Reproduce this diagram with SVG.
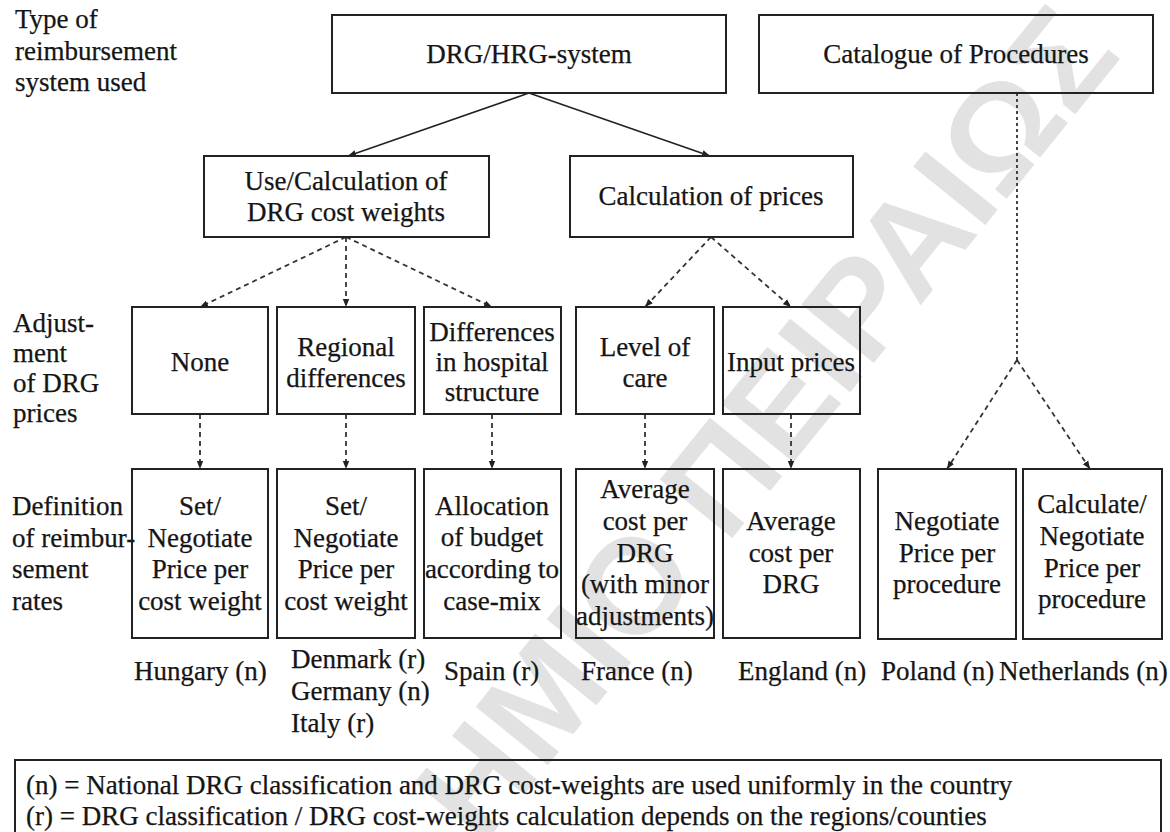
<svg xmlns="http://www.w3.org/2000/svg" width="1170" height="832" viewBox="0 0 1170 832">
  <defs>
    <marker id="arr" viewBox="0 0 10 10" refX="10" refY="5" markerWidth="8" markerHeight="8" markerUnits="userSpaceOnUse" orient="auto">
      <path d="M0,1 L10,5 L0,9 z" fill="#222"/>
    </marker>
    <style>
      text { font-family: "Liberation Serif", "Times New Roman", serif; font-size: 27px; fill: #151515; stroke: #151515; stroke-width: 0.25px; }
      .c { text-anchor: middle; }
      .box { fill: none; stroke: #222; stroke-width: 2; }
      .solid { fill: none; stroke: #222; stroke-width: 1.6; }
      .dash { fill: none; stroke: #333; stroke-width: 1.8; stroke-dasharray: 5 4; }
      .dot { fill: none; stroke: #444; stroke-width: 2; stroke-dasharray: 3 3; }
      .wm { font-family: "Liberation Sans", Arial, sans-serif; font-weight: bold; font-size: 135px; fill: #e2e2e2; stroke: none; }
    </style>
  </defs>

  <rect x="0" y="0" width="1170" height="832" fill="#fff"/>

  <!-- faint diagonal watermark behind the chart -->
  <text class="wm" transform="translate(481,848) rotate(-51)">ΗΜΙΟ ΠΕΙΡΑΙΩΣ</text>

  <!-- row captions -->
  <g id="row-labels">
    <text x="15" y="28">Type of</text>
    <text x="15" y="60">reimbursement</text>
    <text x="15" y="91">system used</text>
    <text x="13" y="332">Adjust-</text>
    <text x="13" y="362">ment</text>
    <text x="13" y="392">of DRG</text>
    <text x="13" y="422">prices</text>
    <text x="12" y="515">Definition</text>
    <text x="12" y="547">of reimbur-</text>
    <text x="12" y="578">sement</text>
    <text x="12" y="610">rates</text>
  </g>

  <!-- connectors -->
  <g id="connectors">
    <path class="solid" d="M529,93 L348,156" marker-end="url(#arr)"/>
    <path class="solid" d="M529,93 L710,156" marker-end="url(#arr)"/>
    <path class="dash" d="M346,237 L200,307" marker-end="url(#arr)"/>
    <path class="dash" d="M346,237 L346,307" marker-end="url(#arr)"/>
    <path class="dash" d="M346,237 L492,307" marker-end="url(#arr)"/>
    <path class="dash" d="M711,237 L645,307" marker-end="url(#arr)"/>
    <path class="dash" d="M711,237 L791,307" marker-end="url(#arr)"/>
    <path class="dash" d="M200,414 L200,469" marker-end="url(#arr)"/>
    <path class="dash" d="M346,414 L346,469" marker-end="url(#arr)"/>
    <path class="dash" d="M492,414 L492,469" marker-end="url(#arr)"/>
    <path class="dash" d="M645,414 L645,469" marker-end="url(#arr)"/>
    <path class="dash" d="M791,414 L791,469" marker-end="url(#arr)"/>
    <path class="dot" d="M1017,93 L1017,360"/>
    <path class="dash" d="M1017,360 L947,469" marker-end="url(#arr)"/>
    <path class="dash" d="M1017,360 L1090,469" marker-end="url(#arr)"/>
  </g>

  <!-- top level -->
  <g id="drg-system">
    <rect class="box" x="332" y="15" width="394" height="78"/>
    <text class="c" x="529" y="63">DRG/HRG-system</text>
  </g>
  <g id="catalogue">
    <rect class="box" x="759" y="15" width="394" height="78"/>
    <text class="c" x="956" y="63">Catalogue of Procedures</text>
  </g>

  <!-- second level -->
  <g id="cost-weights">
    <rect class="box" x="204" y="156" width="285" height="81"/>
    <text class="c" x="346" y="190">Use/Calculation of</text>
    <text class="c" x="346" y="221">DRG cost weights</text>
  </g>
  <g id="calc-prices">
    <rect class="box" x="570" y="156" width="283" height="81"/>
    <text class="c" x="711" y="205">Calculation of prices</text>
  </g>

  <!-- price adjustment level -->
  <g id="adj-none">
    <rect class="box" x="132" y="307" width="136" height="107"/>
    <text class="c" x="200" y="371">None</text>
  </g>
  <g id="adj-regional">
    <rect class="box" x="277" y="307" width="138" height="107"/>
    <text class="c" x="346" y="356">Regional</text>
    <text class="c" x="346" y="387">differences</text>
  </g>
  <g id="adj-structure">
    <rect class="box" x="424" y="307" width="137" height="107"/>
    <text class="c" x="492" y="341">Differences</text>
    <text class="c" x="492" y="371">in hospital</text>
    <text class="c" x="492" y="401">structure</text>
  </g>
  <g id="adj-care">
    <rect class="box" x="576" y="307" width="138" height="107"/>
    <text class="c" x="645" y="356">Level of</text>
    <text class="c" x="645" y="387">care</text>
  </g>
  <g id="adj-input">
    <rect class="box" x="723" y="307" width="137" height="107"/>
    <text class="c" x="791" y="371">Input prices</text>
  </g>

  <!-- reimbursement rate level -->
  <g id="rate-hungary">
    <rect class="box" x="132" y="469" width="136" height="169"/>
    <text class="c" x="200" y="515">Set/</text>
    <text class="c" x="200" y="547">Negotiate</text>
    <text class="c" x="200" y="578">Price per</text>
    <text class="c" x="200" y="610">cost weight</text>
  </g>
  <g id="rate-regional">
    <rect class="box" x="277" y="469" width="138" height="169"/>
    <text class="c" x="346" y="515">Set/</text>
    <text class="c" x="346" y="547">Negotiate</text>
    <text class="c" x="346" y="578">Price per</text>
    <text class="c" x="346" y="610">cost weight</text>
  </g>
  <g id="rate-budget">
    <rect class="box" x="424" y="469" width="137" height="169"/>
    <text class="c" x="492" y="515">Allocation</text>
    <text class="c" x="492" y="546">of budget</text>
    <text class="c" x="492" y="578">according to</text>
    <text class="c" x="492" y="610">case-mix</text>
  </g>
  <g id="rate-france">
    <rect class="box" x="576" y="469" width="138" height="169"/>
    <text class="c" x="645" y="498">Average</text>
    <text class="c" x="645" y="530">cost per</text>
    <text class="c" x="645" y="562">DRG</text>
    <text class="c" x="645" y="593">(with minor</text>
    <text class="c" x="645" y="625">adjustments)</text>
  </g>
  <g id="rate-england">
    <rect class="box" x="723" y="469" width="137" height="169"/>
    <text class="c" x="791" y="530">Average</text>
    <text class="c" x="791" y="562">cost per</text>
    <text class="c" x="791" y="593">DRG</text>
  </g>
  <g id="rate-poland">
    <rect class="box" x="878" y="469" width="138" height="170"/>
    <text class="c" x="947" y="530">Negotiate</text>
    <text class="c" x="947" y="562">Price per</text>
    <text class="c" x="947" y="593">procedure</text>
  </g>
  <g id="rate-netherlands">
    <rect class="box" x="1023" y="469" width="139" height="170"/>
    <text class="c" x="1092" y="513">Calculate/</text>
    <text class="c" x="1092" y="545">Negotiate</text>
    <text class="c" x="1092" y="577">Price per</text>
    <text class="c" x="1092" y="608">procedure</text>
  </g>

  <!-- countries -->
  <g id="countries">
    <text x="134" y="680">Hungary (n)</text>
    <text x="291" y="668">Denmark (r)</text>
    <text x="291" y="700">Germany (n)</text>
    <text x="291" y="732">Italy (r)</text>
    <text x="444" y="680">Spain (r)</text>
    <text x="581" y="680">France (n)</text>
    <text x="738" y="680">England (n)</text>
    <text x="881" y="680">Poland (n)</text>
    <text x="999" y="680">Netherlands (n)</text>
  </g>

  <!-- key -->
  <g id="legend">
    <rect class="box" x="15" y="760" width="1146" height="100" stroke-width="1.5"/>
    <text x="26" y="794">(n) = National DRG classification and DRG cost-weights are used uniformly in the country</text>
    <text x="26" y="825">(r) = DRG classification / DRG cost-weights calculation depends on the regions/counties</text>
  </g>
</svg>
